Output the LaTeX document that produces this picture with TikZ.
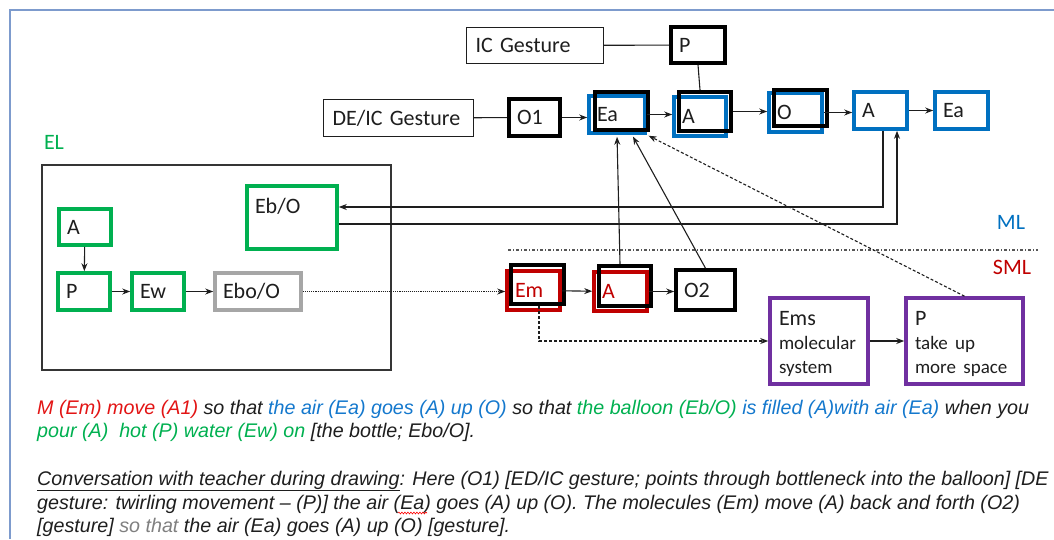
\documentclass[tikz,border=0pt]{standalone}
\usepackage{fontspec}
\setmainfont{Carlito}
\newfontfamily\arialfont{Liberation Sans}
\usepackage{xcolor}
\usepackage{tikz}
\usetikzlibrary{arrows.meta, positioning, decorations.pathmorphing}
\definecolor{myblue}{RGB}{0,112,192}
\definecolor{mygreen}{RGB}{0,176,80}
\definecolor{myred}{RGB}{192,0,0}
\definecolor{mypurple}{RGB}{112,48,160}
\definecolor{mygrey}{RGB}{166,166,166}
\definecolor{mydark}{RGB}{30,30,30}
\definecolor{txtred}{RGB}{226,20,20}
\definecolor{txtblue}{RGB}{20,120,205}
\definecolor{txtgreen}{RGB}{0,176,80}
\definecolor{myframe}{RGB}{125,155,205}
\tikzset{
  tbox/.style={rectangle, line width=3.6pt, inner xsep=8pt, inner ysep=0pt,
    align=left, text=mydark, font={\fontsize{22}{24}\selectfont}},
  blackbox/.style={tbox, draw=black},
  bluebox/.style={tbox, draw=myblue},
  greenbox/.style={tbox, draw=mygreen},
  greybox/.style={tbox, draw=mygrey},
  redbox/.style={tbox, draw=myred, text=myred},
  purpbox/.style={tbox, draw=mypurple, inner xsep=9pt},
  kframe/.style={rectangle, draw=black, line width=4pt, inner sep=0pt},
  plainbox/.style={rectangle, draw=mydark, line width=1.2pt, inner xsep=9pt,
    inner ysep=0pt, align=left, text=mydark, font={\fontsize{22}{24}\selectfont}},
  layer/.style={inner sep=0pt, font={\fontsize{22}{24}\selectfont}},
  arrow/.style={-{Stealth[length=8pt,width=6pt]}, line width=1.1pt, color=mydark},
  line/.style={line width=1.1pt, color=mydark},
  dotarrow/.style={arrow, densely dotted},
  dasharrow/.style={arrow, dash pattern=on 3pt off 2pt},
  sepline/.style={line width=1.2pt, color=mydark!75, dash pattern=on 3pt off 2pt on 1pt off 2pt},
  saying/.style={anchor=base west, inner sep=0pt, text=mydark,
    font={\arialfont\itshape\fontsize{19.7}{23}\selectfont}},
  squiggle/.style={red, line width=0.6pt, decorate,
    decoration={snake, amplitude=0.9pt, segment length=3pt}}
}

\begin{document}
\begin{tikzpicture}[x=1pt, y=-1pt]
  \useasboundingbox (0,0) rectangle (1054,539);

  % Coordinates
  \coordinate (frameTL) at (10,10);
  \coordinate (frameTR) at (1054,10);
  \coordinate (frameBL) at (10,539);
  \coordinate (sepL) at (508,250);
  \coordinate (sepR) at (1038,250);
  \coordinate (waveL) at (398,513);
  \coordinate (waveR) at (427,513);

  % Page frame
  \draw[myframe, line width=2pt] (frameTR) -- (frameTL) -- (frameBL);

  % ML row
  \node[plainbox, text width=119pt, minimum height=36pt] (icg) at (535,45.5) {IC Gesture};
  \node[blackbox, text width=38pt, minimum height=36pt] (ptop) at (698,45) {P};
  \node[plainbox, text width=132pt, minimum height=37pt] (deic) at (398.5,118) {DE/IC Gesture};
  \node[blackbox, text width=35pt, minimum height=37pt] (o1) at (534.5,117.5) {O1};
  \node[bluebox, text width=40pt, minimum height=37pt] (ea) at (617,114.5) {Ea};
  \node[bluebox, text width=36pt, minimum height=39pt] (a) at (700,116.5) {A};
  \node[bluebox, text width=37pt, minimum height=39pt] (o) at (795.5,112.5) {O};
  \node[bluebox, text width=37pt, minimum height=37pt] (a2) at (880.5,110.5) {A};
  \node[bluebox, text width=37pt, minimum height=37pt] (ea2) at (961.5,110.5) {Ea};
  \node[kframe, minimum width=53pt, minimum height=38pt] (eaK) at (621.5,111) {};
  \node[kframe, minimum width=52pt, minimum height=39pt] (aK) at (705,111.5) {};
  \node[kframe, minimum width=53pt, minimum height=36pt] (oK) at (800.5,108) {};

  % EL box
  \node[layer, text=mygreen] (el) at (54,142) {EL};
  \node[rectangle, draw=mydark!90, line width=1.5pt, minimum width=349pt, minimum height=205pt] (elbox) at (216.5,267.5) {};
  \node[greenbox, text width=36pt, minimum height=36pt] (ga) at (85,227) {A};
  \node[greenbox, text width=36pt, minimum height=37pt] (gp) at (84,291.5) {P};
  \node[greenbox, text width=36pt, minimum height=37pt] (ew) at (158,291.5) {Ew};
  \node[greybox, text width=70pt, minimum height=37pt] (ebo) at (258,291.5) {Ebo/O};
  \node[greenbox, text width=74pt, text height=27pt, text depth=36pt] (eb) at (292,217.5) {Eb/O};

  % SML row
  \node[layer, text=myblue] (ml) at (1011,222) {ML};
  \node[layer, text=myred] (sml) at (1012,267) {SML};
  \node[redbox, text width=37pt, minimum height=39pt] (em) at (533.5,290.5) {Em};
  \node[redbox, text width=37pt, minimum height=39pt] (ar) at (620.5,291.5) {A};
  \node[kframe, minimum width=53pt, minimum height=39pt] (emK) at (537.5,284.5) {};
  \node[kframe, minimum width=52pt, minimum height=40pt] (arK) at (625,286) {};
  \node[blackbox, text width=43pt, minimum height=40pt] (o2) at (705.5,290) {O2};
  \node[purpbox, text width=80pt, text height=27pt, text depth=59pt] (ems) at (819,341)
    {Ems\\\fontsize{19}{24}\selectfont molecular\\system};
  \node[purpbox, text width=99pt, text height=27pt, text depth=59pt] (pp) at (964.5,341)
    {P\\\fontsize{19}{24}\selectfont take up\\more space};

  % Connectors, top
  \draw[line] (icg) -- (ptop);
  \draw[line] (ptop.south) -- (aK.north -| 700,0);
  \draw[line] (deic) -- (o1);
  \draw[arrow] (o1.east) -- (o1.east -| ea.west);
  \draw[arrow] (ea.east) -- (ea.east -| a.west);
  \draw[arrow] (aK.east) -- (aK.east -| o.west);
  \draw[arrow] (o.east) -- (o.east -| a2.west);
  \draw[arrow] (a2) -- (ea2);
  \draw[arrow] ([xshift=2.5pt]a2.south) |- ([yshift=10.5pt]eb.east);
  \draw[arrow] ([yshift=-6.5pt]eb.east) -| ([xshift=16.5pt]a2.south);

  % Connectors, EL
  \draw[arrow] (ga) -- (gp);
  \draw[arrow] (gp) -- (ew);
  \draw[arrow] (ew) -- (ebo);
  \draw[dotarrow, line width=0.9pt] (ebo.east) -- (ebo.east -| em.west);

  % Connectors, SML
  \draw[sepline] (sepL) -- (sepR);
  \draw[arrow] (em) -- (ar);
  \draw[arrow] (ar.east) -- (ar.east -| o2.west);
  \draw[arrow, shorten >=2pt] ([xshift=-5pt]arK.north) -- (ea.south);
  \draw[arrow, shorten >=2pt] (o2.north) -- ([xshift=15pt]ea.south);
  \draw[dasharrow, shorten >=2pt] (pp.north) -- (ea.south east);
  \draw[dasharrow] ([xshift=1.5pt]emK.south) |- (ems.west);
  \draw[arrow] (ems) -- (pp);

  % Student account
  \node[saying] (say1) at (37,414) {{\color{txtred}M (Em) move (A1)} so that {\color{txtblue}the air (Ea) goes (A) up (O)} so that {\color{txtgreen}the balloon (Eb/O)} {\color{txtblue}is filled (A)with air (Ea)} when you};
  \node[saying] (say2) at (37,437.5) {{\color{txtgreen}pour (A)\ \ hot (P) water (Ew) on} [the bottle; Ebo/O].};
  \node[saying] (talk1) at (37,485) {\underline{Conversation with teacher during drawing}: Here (O1) [ED/IC gesture; points through bottleneck into the balloon] [DE};
  \node[saying] (talk2) at (37,509) {gesture: twirling movement – (P)] the air (Ea) goes (A) up (O). The molecules (Em) move (A) back and forth (O2)};
  \node[saying] (talk3) at (37,532) {[gesture] {\color{gray}so that} the air (Ea) goes (A) up (O) [gesture].};
  \draw[squiggle] (waveL) -- (waveR);
\end{tikzpicture}
\end{document}
